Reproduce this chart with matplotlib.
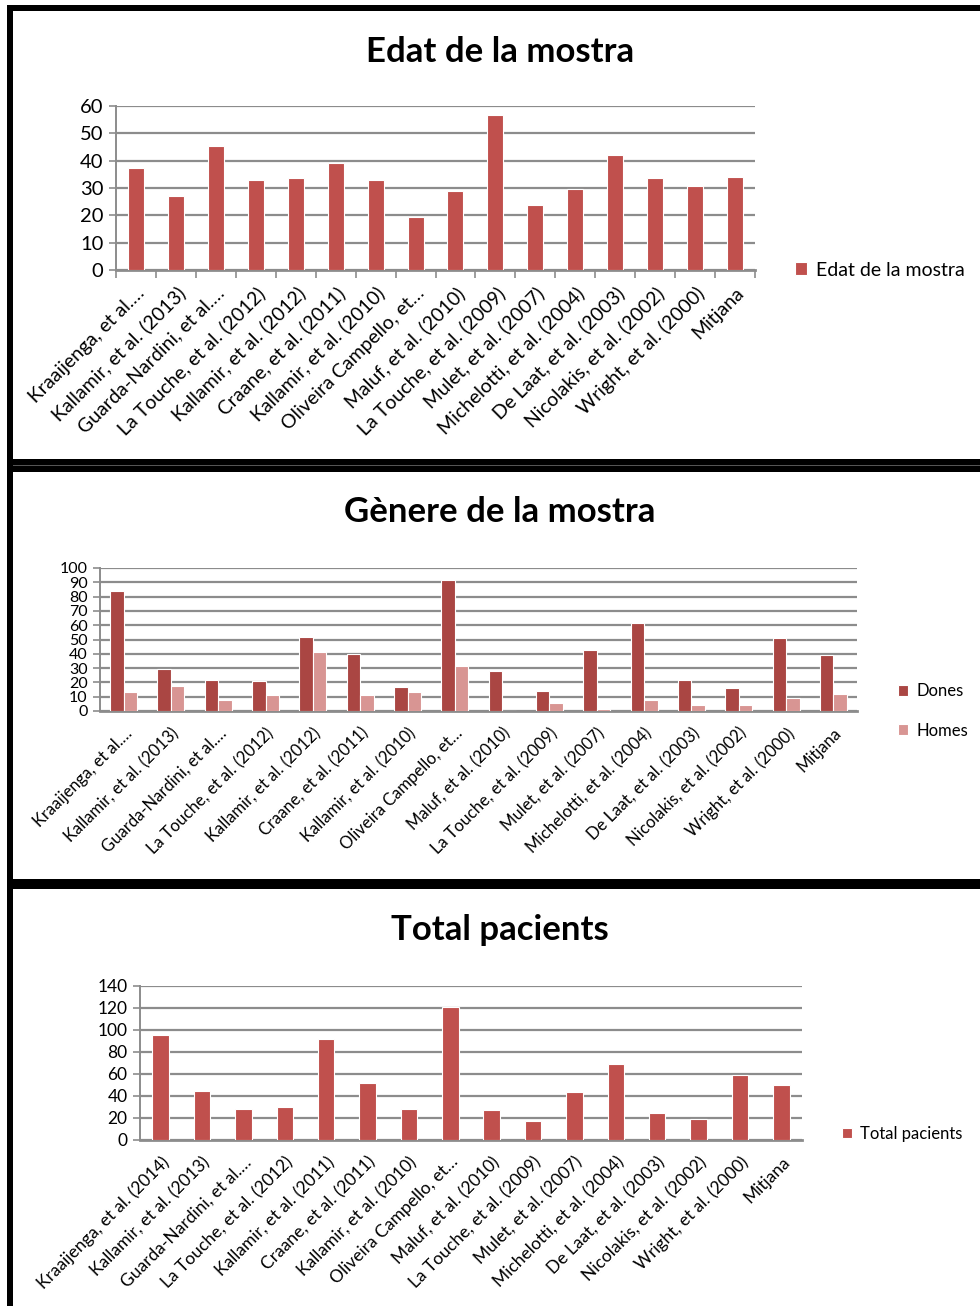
import matplotlib
matplotlib.use("Agg")
import matplotlib.pyplot as plt
from matplotlib.patches import Rectangle
import numpy as np

plt.rcParams['font.family'] = ['Lato', 'DejaVu Sans']

# ---------------- data ----------------
labels_age = ["Kraaijenga, et al.…", "Kallamir, et al. (2013)", "Guarda-Nardini, et al.…",
              "La Touche, et al. (2012)", "Kallamir, et al. (2012)", "Craane, et al. (2011)",
              "Kallamir, et al. (2010)", "Oliveira Campello, et…", "Maluf, et al. (2010)",
              "La Touche, et al. (2009)", "Mulet, et al. (2007)", "Michelotti, et al. (2004)",
              "De Laat, et al. (2003)", "Nicolakis, et al. (2002)", "Wright, et al. (2000)", "Mitjana"]
age = [37.4, 27.1, 45.4, 33.1, 33.5, 39.3, 32.8, 19.5, 29.0, 56.6, 23.6, 29.7, 42.0, 33.7, 30.9, 34.2]

labels_gender = labels_age
dones = [83.6, 29.3, 21.9, 21.2, 51.7, 39.7, 17.1, 91.7, 27.7, 13.9, 43.0, 61.7, 21.9, 15.9, 51.0, 39.3]
homes = [13.2, 17.3, 7.9, 11.3, 41.1, 11.3, 13.2, 31.2, 0.0, 5.3, 1.5, 7.9, 3.9, 3.9, 9.2, 12.0]

labels_total = ["Kraaijenga, et al. (2014)", "Kallamir, et al. (2013)", "Guarda-Nardini, et al.…",
                "La Touche, et al. (2012)", "Kallamir, et al. (2011)", "Craane, et al. (2011)",
                "Kallamir, et al. (2010)", "Oliveira Campello, et…", "Maluf, et al. (2010)",
                "La Touche, et al. (2009)", "Mulet, et al. (2007)", "Michelotti, et al. (2004)",
                "De Laat, et al. (2003)", "Nicolakis, et al. (2002)", "Wright, et al. (2000)", "Mitjana"]
total = [95.3, 44.4, 28.6, 30.4, 91.9, 51.4, 28.6, 120.8, 27.1, 17.4, 43.5, 69.1, 24.4, 19.2, 58.8, 49.9]

# ---------------- figure ----------------
W, H = 980, 1306
fig = plt.figure(figsize=(W / 100, H / 100), dpi=100)
fig.patch.set_facecolor('white')

def add_ax(l, r, t, b):
    return fig.add_axes([l / W, 1 - b / H, (r - l) / W, (b - t) / H])

def frect(x0, y0, x1, y1, color='black'):
    fig.add_artist(Rectangle((x0 / W, 1 - y1 / H), (x1 - x0) / W, (y1 - y0) / H,
                             transform=fig.transFigure, facecolor=color, edgecolor='none', zorder=10))

RED = '#C0504D'
DARK = '#AA4643'
LIGHT = '#D89593'
GRID = '#8C8C8C'

def style(ax, ymax, step, tick_fs, xlabels, xl_fs, xticks_marks=True):
    ax.set_ylim(0, ymax)
    ax.set_yticks(np.arange(0, ymax + 0.1, step))
    ax.set_xlim(-0.5, len(xlabels) - 0.5)
    ax.yaxis.grid(True, color=GRID, linewidth=1.6, zorder=0)
    ax.set_axisbelow(True)
    for s in ['top', 'right']:
        ax.spines[s].set_visible(False)
    ax.spines['left'].set_color(GRID)
    ax.spines['left'].set_linewidth(1.4)
    ax.spines['bottom'].set_color(GRID)
    ax.spines['bottom'].set_linewidth(2.0)
    ax.tick_params(axis='y', length=5, color=GRID, width=1.2, labelsize=tick_fs, pad=4)
    ax.set_xticks(np.arange(len(xlabels)))
    ax.set_xticklabels(xlabels, rotation=45, ha='right', va='top', rotation_mode='anchor', fontsize=xl_fs)
    ax.tick_params(axis='x', length=0, pad=10)
    if xticks_marks:
        ax.set_xticks(np.arange(-0.5, len(xlabels), 1.0), minor=True)
        ax.tick_params(axis='x', which='minor', length=6, color=GRID, width=1.2)

# ---------- Panel 1 ----------
ax1 = add_ax(116, 755, 106, 270)
x = np.arange(len(labels_age))
ax1.bar(x, age, width=0.4, color=RED, edgecolor='white', linewidth=0.8, zorder=3, label='Edat de la mostra')
style(ax1, 60, 10, 14.5, labels_age, 14)
ax1.legend(loc='center left', bbox_to_anchor=(795 / W, 1 - 270 / H), bbox_transform=fig.transFigure,
           frameon=False, fontsize=14, handlelength=0.6, handleheight=0.6, handletextpad=0.5,
           borderpad=0, borderaxespad=0)
fig.text(500 / W, 1 - 52 / H, "Edat de la mostra", ha='center', va='center', fontsize=25, fontweight='bold')

# ---------- Panel 2 ----------
ax2 = add_ax(100, 857, 568, 711)
bw = 1 / 3.5
ax2.bar(x - bw / 2, dones, width=bw, color=DARK, edgecolor='white', linewidth=0.8, zorder=3, label='Dones')
ax2.bar(x + bw / 2, homes, width=bw, color=LIGHT, edgecolor='white', linewidth=0.8, zorder=3, label='Homes')
style(ax2, 100, 10, 11.5, labels_gender, 12, xticks_marks=False)
ax2.legend(loc='center left', bbox_to_anchor=(898 / W, 1 - 711 / H), bbox_transform=fig.transFigure,
           frameon=False, fontsize=12, handlelength=0.6, handleheight=0.6, handletextpad=0.5,
           labelspacing=1.4, borderpad=0, borderaxespad=0)
fig.text(500 / W, 1 - 512 / H, "Gènere de la mostra", ha='center', va='center', fontsize=25, fontweight='bold')

# ---------- Panel 3 ----------
ax3 = add_ax(140, 802, 986, 1140)
ax3.bar(x, total, width=0.4, color=RED, edgecolor='white', linewidth=0.8, zorder=3, label='Total pacients')
style(ax3, 140, 20, 12.5, labels_total, 12.5, xticks_marks=False)
ax3.legend(loc='center left', bbox_to_anchor=(842 / W, 1 - 1134 / H), bbox_transform=fig.transFigure,
           frameon=False, fontsize=12, handlelength=0.6, handleheight=0.6, handletextpad=0.5,
           borderpad=0, borderaxespad=0)
fig.text(500 / W, 1 - 930 / H, "Total pacients", ha='center', va='center', fontsize=25, fontweight='bold')

# ---------- borders ----------
frect(7, 5, 13, H)          # left
frect(7, 5, W, 11)          # top
frect(7, 459, W, 472)       # between 1 and 2
frect(13, 465, W, 466, color='#555555')
frect(7, 879, W, 889)       # between 2 and 3

fig.savefig('out.png', dpi=100, facecolor='white')
